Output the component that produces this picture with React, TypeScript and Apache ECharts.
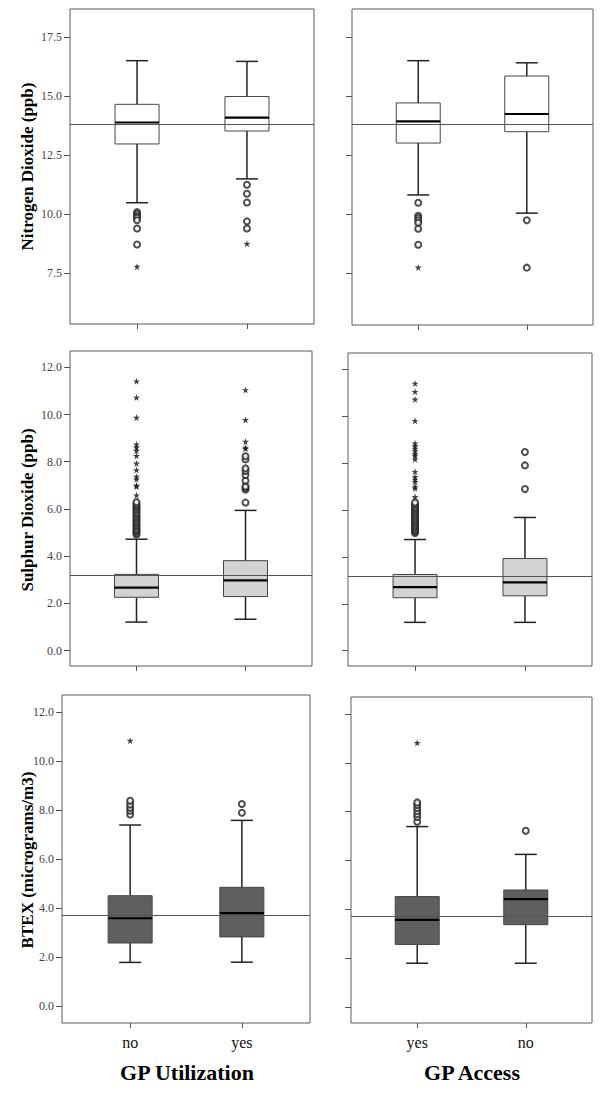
import React, { useEffect, useRef } from "react";
import * as echarts from "echarts";

// ---------- categories ----------
const utilCategories = ["no", "yes"];
const accessCategories = ["yes", "no"];

// ---------- titles ----------
const yTitles = ["Nitrogen Dioxide (ppb)", "Sulphur Dioxide (ppb)", "BTEX (micrograms/m3)"];
const xTitles = ["GP Utilization", "GP Access"];

// ---------- tick labels ----------
const no2Ticks = [7.5, 10, 12.5, 15, 17.5];
const so2Ticks = [0, 2, 4, 6, 8, 10, 12];
const btexTicks = [0, 2, 4, 6, 8, 10, 12];

// ---------- box statistics: [whisker low, Q1, median, Q3, whisker high] ----------
const no2UtilBox = [
  [10.48, 12.97, 13.88, 14.65, 16.5],
  [11.49, 13.52, 14.09, 14.98, 16.47],
];
const no2AccessBox = [
  [10.81, 13.01, 13.93, 14.71, 16.5],
  [10.04, 13.49, 14.24, 15.85, 16.41],
];
const so2UtilBox = [
  [1.21, 2.26, 2.67, 3.23, 4.72],
  [1.33, 2.29, 2.98, 3.81, 5.94],
];
const so2AccessBox = [
  [1.21, 2.26, 2.71, 3.25, 4.74],
  [1.21, 2.34, 2.91, 3.93, 5.68],
];
const btexUtilBox = [
  [1.79, 2.58, 3.59, 4.51, 7.39],
  [1.8, 2.83, 3.8, 4.85, 7.58],
];
const btexAccessBox = [
  [1.79, 2.56, 3.57, 4.52, 7.39],
  [1.79, 3.37, 4.42, 4.79, 6.25],
];

// ---------- outliers (circles) per category ----------
const no2UtilOutliers = [
  [10.08, 10.0, 9.91, 9.84, 9.74, 9.39, 8.71],
  [11.24, 10.86, 10.49, 9.69, 9.39],
];
const no2AccessOutliers = [
  [10.48, 9.93, 9.84, 9.74, 9.63, 9.38, 8.7],
  [9.74, 7.73],
];
const so2UtilOutliers = [
  [4.92, 4.98, 5.06, 5.11, 5.17, 5.26, 5.31, 5.38, 5.45, 5.52, 5.6, 5.66, 5.73, 5.8, 5.86, 5.95, 6.01, 6.08, 6.15, 6.21, 6.29],
  [6.27, 6.82, 6.9, 6.95, 7.2, 7.44, 7.61, 7.72, 8.1, 8.23],
];
const so2AccessOutliers = [
  [5.02, 5.08, 5.15, 5.21, 5.28, 5.34, 5.41, 5.48, 5.55, 5.61, 5.69, 5.76, 5.83, 5.9, 5.97, 6.04, 6.1, 6.18, 6.25, 6.32],
  [6.89, 7.9, 8.47],
];
const btexUtilOutliers = [
  [7.82, 7.97, 8.09, 8.23, 8.38],
  [7.89, 8.25],
];
const btexAccessOutliers = [
  [7.59, 7.78, 7.9, 8.03, 8.15, 8.27, 8.38],
  [7.22],
];

// ---------- extreme values (stars) per category ----------
const no2UtilExtremes = [[7.77], [8.74]];
const no2AccessExtremes = [[7.74], []];
const so2UtilExtremes = [
  [6.58, 6.95, 7.0, 7.26, 7.37, 7.65, 7.93, 8.25, 8.47, 8.61, 8.74, 9.87, 10.72, 11.41],
  [8.55, 8.6, 8.85, 9.77, 11.04],
];
const so2AccessExtremes = [
  [6.56, 6.92, 7.0, 7.2, 7.3, 7.41, 7.63, 8.16, 8.3, 8.38, 8.5, 8.62, 8.72, 8.84, 9.8, 10.71, 11.04, 11.39],
  [],
];
const btexUtilExtremes = [[10.83], []];
const btexAccessExtremes = [[10.82], []];

// ---------- reference (overall mean) lines ----------
const no2Means = [13.8, 13.79];
const so2Means = [3.18, 3.17];
const btexMeans = [3.72, 3.71];

const SERIF = '"Liberation Serif", "Times New Roman", serif';
const STAR =
  "path://M50,0L61.8,35.3L99,35.3L68.9,57.1L80.3,92.7L50,70.7L19.7,92.7L31.1,57.1L1,35.3L38.2,35.3Z";

type Panel = {
  box: number[][];
  outliers: number[][];
  extremes: number[][];
  mean: number;
  cats: string[];
  ticks: number[];
  yMin: number;
  yMax: number;
  grid: [number, number, number, number];
  fill: string;
  yLabels: boolean;
  xLabels: boolean;
};

const panels: Panel[] = [
  { box: no2UtilBox, outliers: no2UtilOutliers, extremes: no2UtilExtremes, mean: no2Means[0], cats: utilCategories, ticks: no2Ticks, yMin: 5.34, yMax: 18.69, grid: [70, 9, 244, 315], fill: "#ffffff", yLabels: true, xLabels: false },
  { box: no2AccessBox, outliers: no2AccessOutliers, extremes: no2AccessExtremes, mean: no2Means[1], cats: accessCategories, ticks: no2Ticks, yMin: 5.3, yMax: 18.69, grid: [352, 9, 241, 316], fill: "#ffffff", yLabels: false, xLabels: false },
  { box: so2UtilBox, outliers: so2UtilOutliers, extremes: so2UtilExtremes, mean: so2Means[0], cats: utilCategories, ticks: so2Ticks, yMin: -0.65, yMax: 12.69, grid: [70, 351, 242, 315], fill: "#d3d3d3", yLabels: true, xLabels: false },
  { box: so2AccessBox, outliers: so2AccessOutliers, extremes: so2AccessExtremes, mean: so2Means[1], cats: accessCategories, ticks: so2Ticks, yMin: -0.65, yMax: 12.69, grid: [348, 353, 244, 313], fill: "#d3d3d3", yLabels: false, xLabels: false },
  { box: btexUtilBox, outliers: btexUtilOutliers, extremes: btexUtilExtremes, mean: btexMeans[0], cats: utilCategories, ticks: btexTicks, yMin: -0.68, yMax: 12.69, grid: [62, 695, 248, 328], fill: "#5f5f5f", yLabels: true, xLabels: true },
  { box: btexAccessBox, outliers: btexAccessOutliers, extremes: btexAccessExtremes, mean: btexMeans[1], cats: accessCategories, ticks: btexTicks, yMin: -0.66, yMax: 12.7, grid: [351, 697, 241, 326], fill: "#5f5f5f", yLabels: false, xLabels: true },
];

export default function App() {
  const ref = useRef<HTMLDivElement>(null);

  useEffect(() => {
    if (!ref.current) return;
    const chart = echarts.init(ref.current, null, { renderer: "svg" });

    const grids: any[] = [];
    const xAxes: any[] = [];
    const yAxes: any[] = [];
    const series: any[] = [];

    panels.forEach((p, i) => {
      grids.push({
        left: p.grid[0],
        top: p.grid[1],
        width: p.grid[2],
        height: p.grid[3],
        show: true,
        borderColor: "#5a5a5a",
        borderWidth: 1,
        backgroundColor: "#ffffff",
      });
      xAxes.push({
        gridIndex: i,
        type: "value",
        position: "bottom",
        min: -0.61,
        max: 1.61,
        axisLine: { show: false, onZero: false },
        splitLine: { show: false },
        axisTick: { show: true, customValues: [0, 1], length: 5, lineStyle: { color: "#555" } },
        axisLabel: {
          show: p.xLabels,
          customValues: [0, 1],
          formatter: (v: number) => p.cats[Math.round(v)] ?? "",
          margin: 11,
          fontFamily: SERIF,
          fontSize: 16,
          color: "#111",
        },
      });
      yAxes.push({
        gridIndex: i,
        type: "value",
        position: "left",
        min: p.yMin,
        max: p.yMax,
        axisLine: { show: false, onZero: false },
        splitLine: { show: false },
        axisTick: { show: true, customValues: p.ticks, length: 6, lineStyle: { color: "#555" } },
        axisLabel: {
          show: p.yLabels,
          customValues: p.ticks,
          formatter: (v: number) => v.toFixed(1),
          margin: 8,
          fontFamily: SERIF,
          fontSize: 12,
          color: "#444",
        },
      });

      const fill = p.fill;
      series.push({
        type: "custom",
        xAxisIndex: i,
        yAxisIndex: i,
        z: 2,
        data: p.box.map((b, k) => [k, ...b]),
        encode: { x: 0, y: [1, 2, 3, 4, 5] },
        renderItem: (_params: any, api: any) => {
          const x = api.value(0);
          const low = api.coord([x, api.value(1)]);
          const q1 = api.coord([x, api.value(2)]);
          const med = api.coord([x, api.value(3)]);
          const q3 = api.coord([x, api.value(4)]);
          const high = api.coord([x, api.value(5)]);
          const cx = low[0];
          const hw = 22;
          const cw = 11;
          const whisker = { stroke: "#222", lineWidth: 1.5 };
          return {
            type: "group",
            children: [
              { type: "line", shape: { x1: cx, y1: high[1], x2: cx, y2: q3[1] }, style: whisker },
              { type: "line", shape: { x1: cx, y1: q1[1], x2: cx, y2: low[1] }, style: whisker },
              { type: "line", shape: { x1: cx - cw, y1: high[1], x2: cx + cw, y2: high[1] }, style: whisker },
              { type: "line", shape: { x1: cx - cw, y1: low[1], x2: cx + cw, y2: low[1] }, style: whisker },
              {
                type: "rect",
                shape: { x: cx - hw, y: q3[1], width: 2 * hw, height: q1[1] - q3[1] },
                style: { fill, stroke: "#444", lineWidth: 1 },
              },
              {
                type: "line",
                shape: { x1: cx - hw, y1: med[1], x2: cx + hw, y2: med[1] },
                style: { stroke: "#000", lineWidth: 2.2 },
              },
            ],
          };
        },
      });

      series.push({
        type: "scatter",
        xAxisIndex: i,
        yAxisIndex: i,
        z: 3,
        symbol: "emptyCircle",
        symbolSize: 6,
        itemStyle: { color: "#222", borderColor: "#222", borderWidth: 1.1 },
        data: p.outliers.flatMap((arr, k) => arr.map((v) => [k, v])),
        markLine: {
          silent: true,
          symbol: ["none", "none"],
          label: { show: false },
          lineStyle: { color: "#555", width: 1, type: "solid" },
          data: [{ yAxis: p.mean }],
        },
      });

      series.push({
        type: "scatter",
        xAxisIndex: i,
        yAxisIndex: i,
        z: 3,
        symbol: STAR,
        symbolSize: 7,
        itemStyle: { color: "#111" },
        data: p.extremes.flatMap((arr, k) => arr.map((v) => [k, v])),
      });
    });

    const yTitleCenters = [166.5, 510, 860];
    const graphic: any[] = yTitles.map((t, k) => ({
      type: "text",
      x: 27,
      y: yTitleCenters[k],
      rotation: Math.PI / 2,
      style: {
        text: t,
        fontFamily: SERIF,
        fontWeight: "bold",
        fontSize: 17,
        fill: "#000",
        align: "center",
        verticalAlign: "middle",
      },
    }));
    const xTitleCenters = [187, 472];
    xTitles.forEach((t, k) => {
      graphic.push({
        type: "text",
        x: xTitleCenters[k],
        y: 1072,
        style: {
          text: t,
          fontFamily: SERIF,
          fontWeight: "bold",
          fontSize: 22,
          fill: "#000",
          align: "center",
          verticalAlign: "middle",
        },
      });
    });

    chart.setOption({
      animation: false,
      backgroundColor: "#ffffff",
      grid: grids,
      xAxis: xAxes,
      yAxis: yAxes,
      series,
      graphic,
    });

    return () => chart.dispose();
  }, []);

  return (
    <div
      ref={ref}
      style={{ position: "absolute", left: 0, top: 0, width: 600, height: 1094 }}
    />
  );
}
